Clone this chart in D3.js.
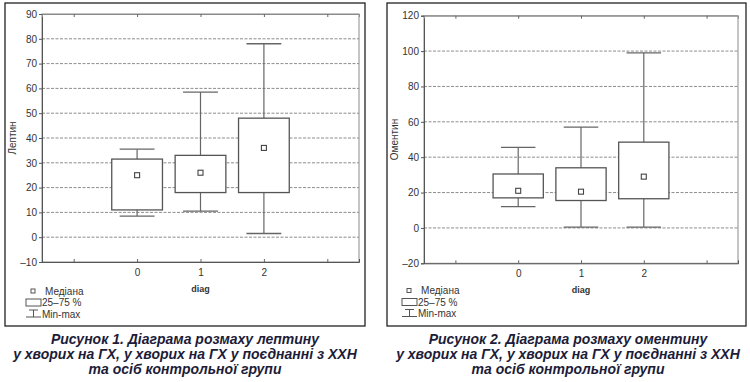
<!DOCTYPE html>
<html><head><meta charset="utf-8">
<script src="https://cdn.jsdelivr.net/npm/d3@7"></script>
<style>
html,body{margin:0;padding:0;background:#fff;}
svg text{font-family:"Liberation Sans",Arial,sans-serif;}
</style></head>
<body>
<svg id="c" width="750" height="382"></svg>
<script>
// ---- data ----
const categories = ["0", "1", "2"];
// Leptin (figure 1)
const leptinMin    = [8.5, 10.5, 1.5];
const leptinQ1     = [11, 18, 18];
const leptinMedian = [25, 26, 36];
const leptinQ3     = [31.5, 33, 48];
const leptinMax    = [35.5, 58.5, 78];
const leptinTicks  = [-10, 0, 10, 20, 30, 40, 50, 60, 70, 80, 90];
// Omentin (figure 2)
const omentinMin    = [12, 0.5, 0.5];
const omentinQ1     = [17, 15.5, 16.5];
const omentinMedian = [21, 20.5, 29];
const omentinQ3     = [30.5, 34, 48.5];
const omentinMax    = [45.5, 57, 99];
const omentinTicks  = [-20, 0, 20, 40, 60, 80, 100, 120];
const xTickValues = [-1, 0, 1, 2, 3];
const legendLabels = ["Медіана", "25–75 %", "Min-max"];
const caption1 = ["Рисунок 1. Діаграма розмаху лептину", "у хворих на ГХ, у хворих на ГХ у поєднанні з ХХН", "та осіб контрольної групи"];
const caption2 = ["Рисунок 2. Діаграма розмаху оментину", "у хворих на ГХ, у хворих на ГХ у поєднанні з ХХН", "та осіб контрольної групи"];
const yTitles = ["Лептин", "Оментин"];
const xTitle = "diag";

const svg = d3.select("#c");

function panel(o) {
  const g = svg.append("g");
  // outer frame
  g.append("rect").attr("x", o.frame[0]).attr("y", o.frame[1])
    .attr("width", o.frame[2] - o.frame[0]).attr("height", o.frame[3] - o.frame[1])
    .attr("fill", "none").attr("stroke", "#222").attr("stroke-width", 1.3);

  const x = d3.scaleLinear().domain([-1.5, 3.5]).range([o.plot[0], o.plot[1]]);
  const y = d3.scaleLinear().domain([o.ticks[0], o.ticks[o.ticks.length - 1]]).range([o.plot[3], o.plot[2]]);

  // gridlines
  g.append("g").selectAll("line").data(o.ticks.slice(1, -1)).join("line")
    .attr("x1", o.plot[0]).attr("x2", o.plot[1])
    .attr("y1", d => y(d)).attr("y2", d => y(d))
    .attr("stroke", "#707070").attr("stroke-width", 0.8).attr("stroke-dasharray", "3,1.5");

  // plot frame
  g.append("rect").attr("x", o.plot[0]).attr("y", o.plot[2])
    .attr("width", o.plot[1] - o.plot[0]).attr("height", o.plot[3] - o.plot[2])
    .attr("fill", "none").attr("stroke", "#8a8a8a").attr("stroke-width", 1);

  // left axis
  const ya = g.append("g").attr("transform", `translate(${o.plot[0]},0)`)
    .call(d3.axisLeft(y).tickValues(o.ticks).tickSize(3).tickPadding(2).tickFormat(d => d < 0 ? "\u2013" + Math.abs(d) : d));
  ya.select(".domain").attr("stroke", "#555");
  ya.selectAll(".tick line").attr("stroke", "#555");
  ya.selectAll(".tick text").attr("fill", "#333").style("font-size", "10px");

  // bottom axis
  const xa = g.append("g").attr("transform", `translate(0,${o.plot[3]})`)
    .call(d3.axisBottom(x).tickValues(xTickValues).tickSize(-3).tickPadding(7)
      .tickFormat(d => (d >= 0 && d < categories.length) ? categories[d] : ""));
  xa.select(".domain").attr("stroke", "#555");
  xa.selectAll(".tick line").attr("stroke", "#666");
  xa.selectAll(".tick text").attr("fill", "#333").style("font-size", "10px");
  // top ticks
  const ta = g.append("g").attr("transform", `translate(0,${o.plot[2]})`)
    .call(d3.axisTop(x).tickValues(xTickValues).tickSize(-3).tickFormat(""));
  ta.select(".domain").attr("stroke", "#8a8a8a");
  ta.selectAll(".tick line").attr("stroke", "#666");

  const idx = d3.range(categories.length);
  const boxW = 0.8, capW = 0.55;
  // whiskers
  g.append("g").selectAll("line").data(idx).join("line")
    .attr("x1", i => x(i)).attr("x2", i => x(i))
    .attr("y1", i => y(o.max[i])).attr("y2", i => y(o.min[i]))
    .attr("stroke", "#666").attr("stroke-width", 1.2);
  // caps
  ["max", "min"].forEach(k => {
    g.append("g").selectAll("line").data(idx).join("line")
      .attr("x1", i => x(i - capW / 2)).attr("x2", i => x(i + capW / 2))
      .attr("y1", i => y(o[k][i])).attr("y2", i => y(o[k][i]))
      .attr("stroke", "#666").attr("stroke-width", 1.3);
  });
  // boxes
  g.append("g").selectAll("rect").data(idx).join("rect")
    .attr("x", i => x(i - boxW / 2)).attr("width", i => x(i + boxW / 2) - x(i - boxW / 2))
    .attr("y", i => y(o.q3[i])).attr("height", i => y(o.q1[i]) - y(o.q3[i]))
    .attr("fill", "#fff").attr("stroke", "#555").attr("stroke-width", 1.3);
  // medians
  g.append("g").selectAll("rect").data(idx).join("rect")
    .attr("x", i => x(i) - 2.5).attr("y", i => y(o.med[i]) - 2.5)
    .attr("width", 5).attr("height", 5)
    .attr("fill", "#fff").attr("stroke", "#444").attr("stroke-width", 1.1);

  // y title
  g.append("text").attr("transform", `translate(${o.ytitleX},${(o.plot[2] + o.plot[3]) / 2}) rotate(-90)`)
    .attr("text-anchor", "middle").attr("dy", "0.35em").attr("fill", "#333").style("font-size", "10px")
    .text(o.ytitle);
  // x title
  g.append("text").attr("x", x(1)).attr("y", o.plot[3] + 27)
    .attr("text-anchor", "middle").attr("dy", "0.35em").attr("fill", "#333")
    .style("font-size", "9px").style("font-weight", "bold").text(xTitle);

  // legend
  const L = o.legend; // [symbolLeft, yCenterFirstRow]
  const sp = 11.5;
  const lg = g.append("g");
  lg.append("rect").attr("x", L[0] + 5).attr("y", L[1] - 2).attr("width", 4).attr("height", 4)
    .attr("fill", "#fff").attr("stroke", "#555").attr("stroke-width", 1);
  lg.append("rect").attr("x", L[0]).attr("y", L[1] + sp - 3.5).attr("width", 15).attr("height", 7)
    .attr("fill", "#fff").attr("stroke", "#555").attr("stroke-width", 1);
  const wy = L[1] + 2 * sp;
  lg.append("line").attr("x1", L[0] + 3).attr("x2", L[0] + 12).attr("y1", wy - 4).attr("y2", wy - 4).attr("stroke", "#555");
  lg.append("line").attr("x1", L[0] + 7.5).attr("x2", L[0] + 7.5).attr("y1", wy - 4).attr("y2", wy + 3).attr("stroke", "#555");
  lg.append("line").attr("x1", L[0]).attr("x2", L[0] + 15).attr("y1", wy + 3).attr("y2", wy + 3).attr("stroke", "#555");
  lg.selectAll("text").data(legendLabels).join("text")
    .attr("x", (d, i) => L[0] + (i === 0 ? 19 : 16)).attr("y", (d, i) => L[1] + i * sp)
    .attr("dy", "0.35em").attr("fill", "#333").style("font-size", "10px").text(d => d);

  // caption
  g.append("g").selectAll("text").data(o.caption).join("text")
    .attr("x", o.capX).attr("y", (d, i) => 344 + i * 15)
    .attr("text-anchor", "middle").attr("fill", "#1c1c38")
    .style("font-size", "14px").style("font-weight", "bold").style("font-style", "italic")
    .text(d => d);
}

panel({
  frame: [5, 3, 365, 326], plot: [42, 359, 14, 262], ticks: leptinTicks,
  min: leptinMin, q1: leptinQ1, med: leptinMedian, q3: leptinQ3, max: leptinMax,
  ytitle: yTitles[0], ytitleX: 12, legend: [26, 291], caption: caption1, capX: 185
});
panel({
  frame: [387, 3, 746, 326], plot: [424, 738, 15.7, 263.3], ticks: omentinTicks,
  min: omentinMin, q1: omentinQ1, med: omentinMedian, q3: omentinQ3, max: omentinMax,
  ytitle: yTitles[1], ytitleX: 394, legend: [402, 290.5], caption: caption2, capX: 568
});
</script>
</body></html>
